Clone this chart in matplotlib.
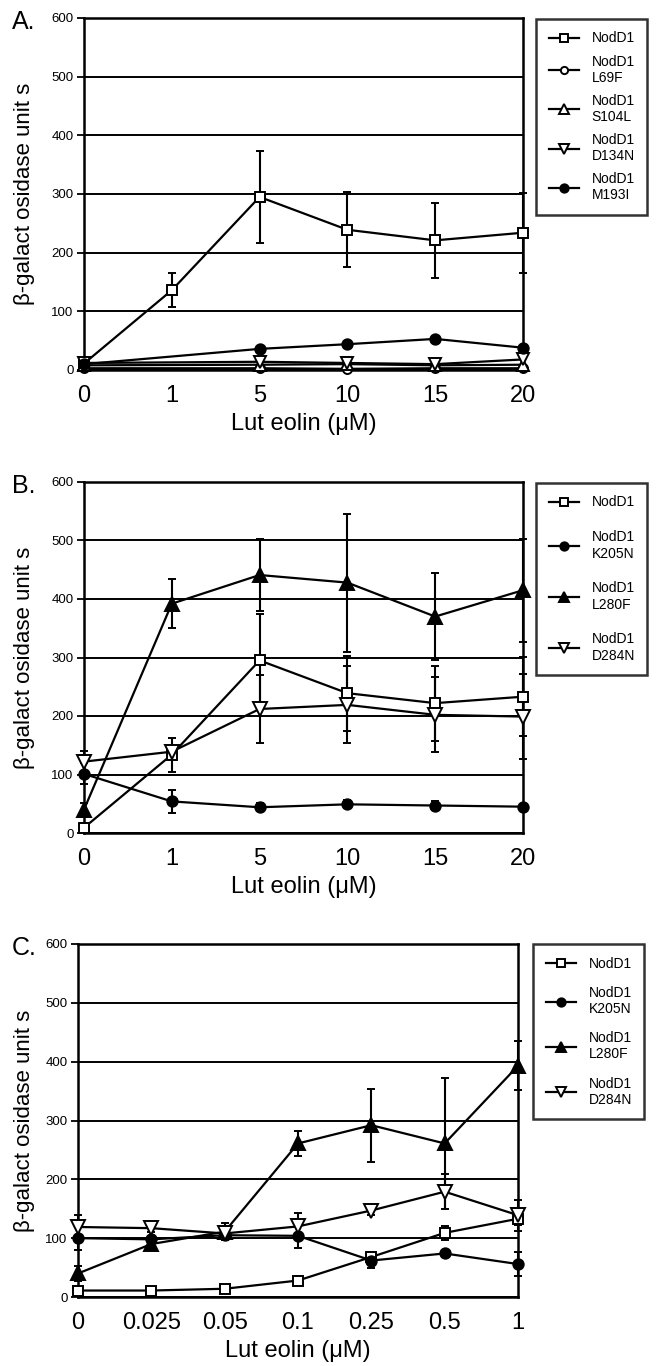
import matplotlib
matplotlib.use("Agg")
import matplotlib.pyplot as plt

plt.rcParams['font.family'] = ['Liberation Sans', 'DejaVu Sans']

W, H = 660, 1366

# ---- panel A ----
a_ticks = ['0', '1', '5', '10', '15', '20']
a_mut_ticks = ['0', '5', '10', '15', '20']   # mutants have no 1 uM point
a_nodd1 = [11, 136, 295, 239, 221, 234]
a_nodd1_err = [3, 29, 79, 64, 64, 68]
a_l69f = [3, 3, 2, 3, 3]
a_s104l = [8, 9, 10, 8, 9]
a_d134n = [12, 14, 12, 10, 18]
a_m193i = [10, 36, 44, 53, 38]

# ---- panel B ----
b_ticks = ['0', '1', '5', '10', '15', '20']
b_nodd1 = [9, 134, 295, 239, 222, 233]
b_nodd1_err = [3, 29, 79, 64, 64, 68]
b_k205n = [101, 54, 44, 49, 47, 45]
b_k205n_err = [18, 20, 7, 7, 8, 4]
b_l280f = [40, 392, 441, 428, 370, 415]
b_l280f_err = [12, 42, 62, 118, 75, 88]
b_d284n = [122, 139, 212, 219, 202, 199]
b_d284n_err = [19, 10, 58, 66, 64, 72]

# ---- panel C ----
c_ticks = ['0', '0.025', '0.05', '0.1', '0.25', '0.5', '1']
c_nodd1 = [11, 11, 14, 28, 68, 109, 133]
c_nodd1_err = [3, 2, 4, 8, 8, 12, 10]
c_k205n = [100, 98, 105, 104, 62, 74, 56]
c_k205n_err = [20, 5, 8, 20, 12, 5, 20]
c_l280f = [40, 90, 111, 261, 292, 261, 393]
c_l280f_err = [12, 6, 14, 22, 62, 112, 42]
c_d284n = [119, 117, 108, 120, 147, 179, 139]
c_d284n_err = [21, 6, 8, 23, 8, 30, 26]


def px_rect(left, right, top, bottom):
    return [left / W, 1 - bottom / H, (right - left) / W, (bottom - top) / H]


def draw_panel(letter, rect, ticks, series, leg_xy, leg_spacing):
    ax = fig.add_axes(px_rect(*rect))
    handles = []
    for name, xt, vals, errs, marker, filled, ms in series:
        x = [ticks.index(t) for t in xt]
        cont = ax.errorbar(x, vals, yerr=errs, color='black', lw=1.6,
                           marker=marker, ms=ms, mec='black', mew=1.4,
                           mfc='black' if filled else 'white',
                           capsize=3, elinewidth=1.5, capthick=1.5, zorder=3)
        for art in cont.get_children():
            art.set_clip_on(False)
        handles.append((cont[0], name))

    ax.set_xlim(0, len(ticks) - 1)
    ax.set_ylim(0, 600)
    ax.set_xticks(range(len(ticks)))
    ax.set_xticklabels(ticks, fontsize=17)
    ax.set_yticks(range(0, 601, 100))
    ax.tick_params(axis='x', length=0, pad=11)
    ax.tick_params(axis='y', length=5, width=1.3, labelsize=9.5, pad=2.5)
    ax.yaxis.grid(True, color='black', lw=1.4)
    ax.set_axisbelow(True)
    for sp in ax.spines.values():
        sp.set_linewidth(1.8)

    ax.set_xlabel('Lut eolin (\u03bcM)', fontsize=17, labelpad=4)
    ax.set_ylabel('\u03b2-galact osidase unit s', fontsize=16)
    ax.yaxis.label.set_va('center')
    ax.yaxis.set_label_coords((25 - rect[0]) / (rect[1] - rect[0]), 0.5)

    fig.text(12 / W, 1 - (rect[2] + 4) / H, letter, fontsize=18, va='center')

    leg = ax.legend([h for h, _ in handles], [n for _, n in handles],
                    loc='upper left', bbox_to_anchor=(leg_xy[0] / W, 1 - leg_xy[1] / H),
                    bbox_transform=fig.transFigure, fontsize=10, frameon=True,
                    fancybox=False, edgecolor='black', borderpad=0.9,
                    borderaxespad=0, handlelength=2.2, handletextpad=0.9,
                    labelspacing=leg_spacing, markerscale=0.8)
    leg.get_frame().set_linewidth(1.8)
    return ax


fig = plt.figure(figsize=(W / 100, H / 100), dpi=100)

draw_panel('A.', (84, 523, 18, 370), a_ticks, [
    ('NodD1', a_ticks, a_nodd1, a_nodd1_err, 's', False, 6.5),
    ('NodD1\nL69F', a_mut_ticks, a_l69f, None, 'o', False, 6.5),
    ('NodD1\nS104L', a_mut_ticks, a_s104l, None, '^', False, 8.5),
    ('NodD1\nD134N', a_mut_ticks, a_d134n, None, 'v', False, 8.5),
    ('NodD1\nM193I', a_mut_ticks, a_m193i, None, 'o', True, 7.5),
], (536, 19), 0.65)

draw_panel('B.', (84, 523, 482, 833), b_ticks, [
    ('NodD1', b_ticks, b_nodd1, b_nodd1_err, 's', False, 6.5),
    ('NodD1\nK205N', b_ticks, b_k205n, b_k205n_err, 'o', True, 7.5),
    ('NodD1\nL280F', b_ticks, b_l280f, b_l280f_err, '^', True, 9.5),
    ('NodD1\nD284N', b_ticks, b_d284n, b_d284n_err, 'v', False, 9.5),
], (536, 483), 1.5)

draw_panel('C.', (78, 518, 944, 1297), c_ticks, [
    ('NodD1', c_ticks, c_nodd1, c_nodd1_err, 's', False, 6.5),
    ('NodD1\nK205N', c_ticks, c_k205n, c_k205n_err, 'o', True, 7.5),
    ('NodD1\nL280F', c_ticks, c_l280f, c_l280f_err, '^', True, 9.5),
    ('NodD1\nD284N', c_ticks, c_d284n, c_d284n_err, 'v', False, 9.5),
], (533, 944), 1.1)

fig.savefig('out.png', dpi=100)
